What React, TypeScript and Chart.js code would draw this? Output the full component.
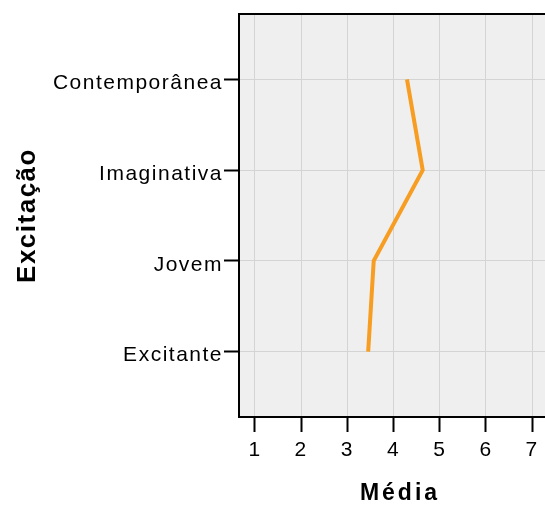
import React, { useEffect, useRef } from "react";
import { Chart, registerables } from "chart.js";

Chart.register(...registerables);

const categories = ["Contemporânea", "Imaginativa", "Jovem", "Excitante"];
const means = [4.29, 4.63, 3.57, 3.45];
const xTickValues = [1, 2, 3, 4, 5, 6, 7];
const xTitle = "Média";
const yTitle = "Excitação";

const FONT = "'Liberation Sans', Arial, Helvetica, sans-serif";

const bgPlugin = {
  id: "plotBg",
  beforeDraw(chart: any) {
    const { ctx, chartArea: a } = chart;
    ctx.save();
    ctx.fillStyle = "#EFEFEF";
    ctx.fillRect(a.left, a.top, a.right - a.left, a.bottom - a.top);
    ctx.restore();
    ctx.letterSpacing = "1.5px";
    const xs = chart.scales.x;
    if (xs && !xs.__wrapped) {
      const orig = xs.drawTitle.bind(xs);
      xs.drawTitle = () => {
        ctx.save();
        ctx.letterSpacing = "3px";
        ctx.translate(8, 0);
        orig();
        ctx.restore();
      };
      xs.__wrapped = true;
    }
  },
  afterDraw(chart: any) {
    const { ctx, chartArea: a } = chart;
    ctx.save();
    ctx.strokeStyle = "#000";
    ctx.lineWidth = 2;
    ctx.beginPath();
    ctx.moveTo(a.left - 1, a.top);
    ctx.lineTo(a.right, a.top);
    ctx.stroke();
    ctx.restore();
  },
};

export default function App() {
  const ref = useRef<HTMLCanvasElement | null>(null);
  useEffect(() => {
    document.body.style.margin = "0";
    const canvas = ref.current!;
    const chart = new Chart(canvas, {
      type: "line",
      data: {
        datasets: [
          {
            data: means.map((m, i) => ({ x: m, y: i })),
            borderColor: "#F79D22",
            borderWidth: 4,
            pointRadius: 0,
            fill: false,
            tension: 0,
          },
        ],
      },
      options: {
        responsive: false,
        animation: false,
        devicePixelRatio: 1,
        layout: { padding: { top: 14, right: 0, left: 0, bottom: 0 } },
        plugins: { legend: { display: false }, tooltip: { enabled: false } },
        scales: {
          x: {
            type: "linear",
            min: 0.654,
            max: 7.277,
            afterBuildTicks: (s: any) => {
              s.ticks = xTickValues.map((v) => ({ value: v }));
            },
            afterFit: (s: any) => {
              s.height = 90;
            },
            grid: {
              color: "#D4D4D4",
              lineWidth: 1,
              tickColor: "#000",
              tickWidth: 2,
              tickLength: 15,
            },
            border: { color: "#000", width: 2 },
            ticks: {
              color: "#000",
              font: { family: FONT, size: 21 },
              padding: 6,
              maxRotation: 0,
              callback: (v: any) => String(v),
            },
            title: {
              display: true,
              text: xTitle,
              color: "#000",
              font: { family: FONT, size: 23, weight: "bold" },
              padding: { top: 0, bottom: 0 },
            },
          },
          y: {
            type: "linear",
            reverse: true,
            min: -0.72,
            max: 3.72,
            afterBuildTicks: (s: any) => {
              s.ticks = categories.map((_, i) => ({ value: i }));
            },
            afterFit: (s: any) => {
              s.width = 239;
            },
            grid: {
              color: "#D4D4D4",
              lineWidth: 1,
              tickColor: "#000",
              tickWidth: 2,
              tickLength: 15,
            },
            border: { color: "#000", width: 2 },
            ticks: {
              color: "#000",
              font: { family: FONT, size: 21 },
              padding: 1,
              labelOffset: 4,
              callback: (v: any) => categories[v as number] ?? "",
            },
            title: {
              display: true,
              text: yTitle,
              color: "#000",
              font: { family: FONT, size: 26, weight: "bold" },
              padding: { top: 12, bottom: 0 },
            },
          },
        },
      },
      plugins: [bgPlugin],
    });
    return () => chart.destroy();
  }, []);
  return <canvas ref={ref} width={545} height={507} style={{ display: "block" }} />;
}
